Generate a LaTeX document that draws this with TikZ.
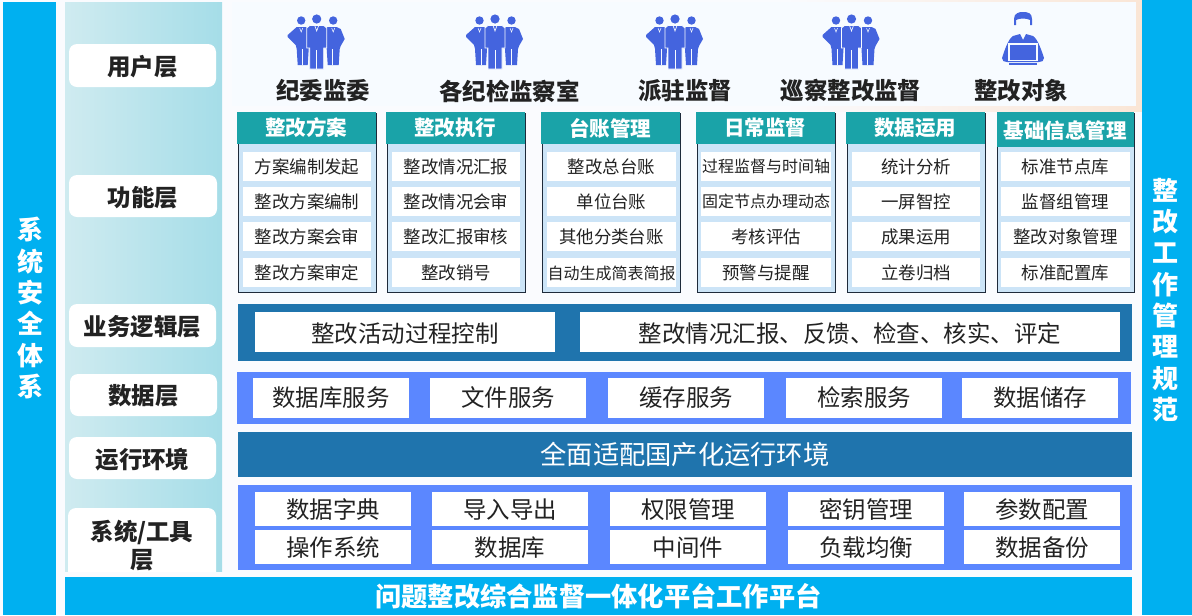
\documentclass[tikz,border=0pt]{standalone}
\usepackage{fontspec}
\setmainfont{Noto Sans CJK SC}
\usetikzlibrary{fadings}
\definecolor{sidebar}{HTML}{00B0F0}
\definecolor{headteal}{HTML}{1AA3A8}
\definecolor{bodyblue}{HTML}{CCE4F7}
\definecolor{darkband}{HTML}{1F74AD}
\definecolor{brightband}{HTML}{5B87FF}
\definecolor{iconblue}{HTML}{4464DE}
\definecolor{toppanel}{HTML}{F7FBFF}
\definecolor{pagebg}{HTML}{FAFBFE}
\definecolor{panelL}{HTML}{CFEBF0}
\definecolor{panelR}{HTML}{A5DDE8}
\definecolor{peach}{HTML}{FBE6D6}
\definecolor{inkdark}{HTML}{222222}
\definecolor{framedark}{HTML}{1E2A3A}
\newcommand{\bx}[7]{%
  \pgfmathsetmacro{\bw}{(#4-#2)*0.75}%
  \pgfmathsetmacro{\bh}{(#5-#3)*0.75}%
  \node[inner sep=0pt,outer sep=0pt,minimum width=\bw pt,minimum height=\bh pt,#6] (#1) at ({(#2+#4)/2},{(#3+#5)/2}) {#7};}
\newcommand{\lowtxt}[2]{\raisebox{-#1pt}[\height][\depth]{#2}}
\newcommand{\crowd}[1]{%
  \begin{scope}[shift={(#1,19)}]
    \fill[iconblue] (-15.5,1.5) circle (4.2);
    \fill[iconblue] (-20,8) -- (-11,8) -- (-8,10) -- (-8,30) -- (-9,46) -- (-19,46) -- (-20,30) -- (-21,26) -- (-29,18) -- (-29,16) -- cycle;
    \fill[iconblue] (16.5,1.5) circle (4.2);
    \fill[iconblue] (11,8) -- (20,8) -- (24,10) -- (28,20) -- (24,27) -- (23,30) -- (22,46) -- (11,46) -- (10,30) -- (9,10) -- cycle;
    \fill[iconblue] (0,0) circle (4.6);
    \fill[iconblue,draw=toppanel,line width=0.6pt] (-7,6.5) -- (7,6.5) -- (10,9) -- (10,29) -- (7,29) -- (7,50) -- (-7,50) -- (-7,29) -- (-10,29) -- (-10,9) -- cycle;
    \draw[toppanel,line width=0.5pt] (0,31) -- (0,50);
    \draw[toppanel,line width=0.5pt] (-1.8,7) -- (0,12) -- (1.8,7);
    \draw[toppanel,line width=0.5pt] (-14,30) -- (-14,46);
    \draw[toppanel,line width=0.5pt] (16,30) -- (16,46);
    \draw[toppanel,line width=0.4pt] (-17,9) -- (-15.5,13) -- (-14,9);
    \draw[toppanel,line width=0.4pt] (15,9) -- (16.5,13) -- (18,9);
  \end{scope}}
\tikzset{
  cell/.style={fill=white,text=inkdark,font=\fontsize{13.1}{15}\selectfont},
  cellsm/.style={fill=white,text=inkdark,font=\fontsize{12}{14}\selectfont},
  hdr/.style={fill=headteal,text=white,font=\fontsize{15.4}{18}\selectfont\bfseries},
  colbody/.style={fill=bodyblue,draw=framedark,line width=0.7pt},
  pill/.style={fill=white,rounded corners=6pt,text=inkdark,font=\fontsize{17.6}{20}\selectfont\bfseries},
  toplabel/.style={text=inkdark,font=\fontsize{17.6}{20}\selectfont\bfseries},
  bigcell/.style={fill=white,text=inkdark,font=\fontsize{17.6}{20}\selectfont},
  vertbar/.style={fill=sidebar},
  verttext/.style={text=white,align=center,inner sep=0pt,font=\fontsize{19.5}{23.5}\selectfont\bfseries},
}
\begin{document}
\begin{tikzpicture}[x=0.75pt,y=-0.75pt]
\useasboundingbox (0,0) rectangle (1192,615);
\fill[pagebg] (0,0) rectangle (1192,615);
\fill[peach,path fading=west] (790,0) rectangle (1142,112);
% side bars
\bx{leftbar}{3}{2}{56}{615}{vertbar}{}
\bx{rightbar}{1142}{0}{1192}{615}{vertbar}{}
\node[verttext] (lefttxt) at (30,308) {系\\统\\安\\全\\体\\系};
\node[verttext] (righttxt) at (1165,300) {整\\改\\工\\作\\管\\理\\规\\范};
% label column
\shade[left color=panelL,right color=panelR] (65,2) rectangle (222,571);
\bx{luser}{69}{44}{216}{87}{pill}{\lowtxt{0.7}{用户层}}
\bx{lfunc}{69}{175}{217}{217}{pill}{\lowtxt{0.9}{功能层}}
\bx{llogic}{69}{304}{216}{347}{pill}{\lowtxt{0.6}{业务逻辑层}}
\bx{ldata}{70}{374}{217}{416}{pill}{\lowtxt{0.9}{数据层}}
\bx{lrun}{69}{437}{216}{479}{pill}{\lowtxt{0.9}{运行环境}}
\begin{scope}
  \clip (60,500) rectangle (222,571);
  \bx{lsys}{68}{508}{216}{600}{pill}{}
\end{scope}
\node[text=inkdark,align=center,inner sep=0pt,font=\fontsize{17.6}{21}\selectfont\bfseries] (lsystxt) at (142,546) {系统/工具\\层};
% top panel
\fill[toppanel] (232,2) rectangle (1136,106);
\crowd{316.7}
\crowd{495}
\crowd{675}
\crowd{851.5}
\begin{scope}[shift={(1023,22)}]
  \fill[iconblue] (-9,-3) .. controls (-9,-9) and (-4,-10) .. (0,-10) .. controls (5,-10) and (9,-9) .. (9,-3) -- (9,3) -- (7,3) -- (7,-2) .. controls (3,-4) and (-3,-4) .. (-7,-2) -- (-7,3) -- (-9,3) -- cycle;
  \fill[iconblue] (-10,14) -- (-3,12) -- (0,18) -- (3,12) -- (10,14) .. controls (15,17) and (19,30) .. (21,36) .. controls (21,39) and (19,40) .. (16,40) -- (-16,40) .. controls (-19,40) and (-21,39) .. (-21,36) .. controls (-19,30) and (-15,17) .. (-10,14) -- cycle;
  \fill[iconblue,draw=toppanel,line width=1.1pt] (-14,22) rectangle (14,38.5);
  \fill[iconblue] (-14,41) rectangle (14,43);
\end{scope}
\node[toplabel] (t1) at (323,91) {纪委监委};
\node[toplabel] (t2) at (509.5,91) {各纪检监察室};
\node[toplabel] (t3) at (685,91) {派驻监督};
\node[toplabel] (t4) at (851,91) {巡察整改监督};
\node[toplabel] (t5) at (1021,91) {整改对象};
% column 1
\bx{c1b}{238}{113}{376}{292}{colbody}{}
\bx{c1h}{237}{112}{375.5}{144}{hdr}{整改方案}
\bx{c1a}{243}{152}{371}{181}{cell}{方案编制发起}
\bx{c1c}{243}{187}{371}{216}{cell}{整改方案编制}
\bx{c1d}{243}{222}{371}{251}{cell}{整改方案会审}
\bx{c1e}{243}{258}{371}{287}{cell}{整改方案审定}
% column 2
\bx{c2b}{387}{113}{525}{292}{colbody}{}
\bx{c2h}{386}{112}{524.5}{144}{hdr}{整改执行}
\bx{c2a}{392}{152}{520}{181}{cell}{整改情况汇报}
\bx{c2c}{392}{187}{520}{216}{cell}{整改情况会审}
\bx{c2d}{392}{222}{520}{251}{cell}{整改汇报审核}
\bx{c2e}{392}{258}{520}{287}{cell}{整改销号}
% column 3
\bx{c3b}{542}{113}{680}{292}{colbody}{}
\bx{c3h}{541}{112}{679.5}{144}{hdr}{台账管理}
\bx{c3a}{547}{152}{676}{181}{cell}{整改总台账}
\bx{c3c}{547}{187}{676}{216}{cell}{单位台账}
\bx{c3d}{547}{222}{676}{251}{cell}{其他分类台账}
\bx{c3e}{547}{258}{676}{287}{cellsm}{\lowtxt{1}{自动生成简表简报}}
% column 4
\bx{c4b}{697}{113}{835}{292}{colbody}{}
\bx{c4h}{696}{112}{834.5}{144}{hdr}{日常监督}
\bx{c4a}{701}{152}{831}{181}{cellsm}{过程监督与时间轴}
\bx{c4c}{701}{187}{831}{216}{cellsm}{固定节点办理动态}
\bx{c4d}{701}{222}{831}{251}{cell}{考核评估}
\bx{c4e}{701}{258}{831}{287}{cell}{预警与提醒}
% column 5
\bx{c5b}{847}{113}{985}{292}{colbody}{}
\bx{c5h}{846}{112}{984.5}{144}{hdr}{数据运用}
\bx{c5a}{852}{152}{980}{181}{cell}{统计分析}
\bx{c5c}{852}{187}{980}{216}{cell}{一屏智控}
\bx{c5d}{852}{222}{980}{251}{cell}{成果运用}
\bx{c5e}{852}{258}{980}{287}{cell}{立卷归档}
% column 6
\bx{c6b}{997}{113}{1134}{292}{colbody}{}
\bx{c6h}{997}{112}{1133.5}{147}{hdr}{\lowtxt{0.7}{基础信息管理}}
\bx{c6a}{1001}{152}{1130}{181}{cell}{标准节点库}
\bx{c6c}{1001}{187}{1130}{216}{cell}{监督组管理}
\bx{c6d}{1001}{222}{1130}{251}{cell}{整改对象管理}
\bx{c6e}{1001}{258}{1130}{287}{cell}{标准配置库}
% logic band
\bx{logicband}{238}{304}{1132}{361}{fill=darkband}{}
\bx{lg1}{255}{312}{555}{352}{bigcell}{\lowtxt{1.5}{整改活动过程控制}}
\bx{lg2}{580}{312}{1120}{352}{bigcell}{\lowtxt{1.5}{整改情况汇报、反馈、检查、核实、评定}}
% data band
\bx{databand}{237}{372}{1131}{424}{fill=brightband}{}
\bx{d1}{253}{378}{409}{418}{bigcell}{数据库服务}
\bx{d2}{430}{378}{586}{418}{bigcell}{文件服务}
\bx{d3}{608}{378}{764}{418}{bigcell}{缓存服务}
\bx{d4}{786}{378}{942}{418}{bigcell}{检索服务}
\bx{d5}{962}{378}{1118}{418}{bigcell}{数据储存}
% runtime band
\bx{runband}{238}{432}{1132}{477}{fill=darkband,text=white,font=\fontsize{19.7}{22}\selectfont}{全面适配国产化运行环境}
% system band
\bx{sysband}{238}{485}{1132}{570}{fill=brightband}{}
\bx{s1}{255}{492}{411}{526}{bigcell}{\lowtxt{0.5}{数据字典}}
\bx{s2}{432}{492}{588}{526}{bigcell}{\lowtxt{0.5}{导入导出}}
\bx{s3}{610}{492}{766}{526}{bigcell}{\lowtxt{0.5}{权限管理}}
\bx{s4}{788}{492}{944}{526}{bigcell}{\lowtxt{0.5}{密钥管理}}
\bx{s5}{964}{492}{1120}{526}{bigcell}{\lowtxt{0.5}{参数配置}}
\bx{s6}{255}{530}{411}{564}{bigcell}{\lowtxt{0.5}{操作系统}}
\bx{s7}{432}{530}{588}{564}{bigcell}{\lowtxt{0.5}{数据库}}
\bx{s8}{610}{530}{766}{564}{bigcell}{\lowtxt{0.5}{中间件}}
\bx{s9}{788}{530}{944}{564}{bigcell}{\lowtxt{0.5}{负载均衡}}
\bx{s10}{964}{530}{1120}{564}{bigcell}{\lowtxt{0.5}{数据备份}}
% bottom bar
\bx{bottombar}{65}{577}{1132}{615}{fill=sidebar,text=white,font=\fontsize{19.7}{22}\selectfont\bfseries}{问题整改综合监督一体化平台工作平台}
\end{tikzpicture}
\end{document}
